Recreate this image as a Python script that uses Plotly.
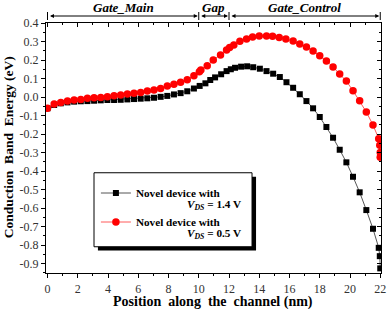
import plotly.graph_objects as go

# ---------------- data ----------------
x_black = [0.0, 0.44, 0.88, 1.32, 1.76, 2.2, 2.64, 3.08, 3.52, 3.96, 4.4, 4.84, 5.28, 5.72,
           6.16, 6.6, 7.04, 7.48, 7.92, 8.36, 8.8, 9.24, 9.68, 10.06, 10.44, 10.76, 11.08,
           11.48, 11.84, 12.12, 12.4, 12.8, 13.2, 13.6, 14.04, 14.48, 14.92, 15.36, 15.8,
           16.24, 16.68, 17.12, 17.56, 18.0, 18.44, 18.88, 19.32, 19.76, 20.2, 20.64, 21.08,
           21.52, 21.9, 21.97, 22.0]
y_black = [-0.061, -0.043, -0.034, -0.029, -0.025, -0.023, -0.022, -0.020, -0.018, -0.016,
           -0.016, -0.015, -0.013, -0.011, -0.009, -0.007, -0.004, 0.001, 0.006, 0.014,
           0.021, 0.031, 0.046, 0.060, 0.074, 0.092, 0.106, 0.123, 0.140, 0.150, 0.158,
           0.164, 0.166, 0.161, 0.153, 0.140, 0.126, 0.108, 0.080, 0.050, 0.015, -0.022,
           -0.061, -0.108, -0.162, -0.220, -0.285, -0.353, -0.431, -0.515, -0.611, -0.712,
           -0.815, -0.860, -0.926]

x_red = [0.0, 0.44, 0.88, 1.32, 1.76, 2.2, 2.64, 3.08, 3.52, 3.96, 4.4, 4.84, 5.28, 5.72,
         6.16, 6.6, 7.04, 7.48, 7.92, 8.36, 8.8, 9.24, 9.68, 10.04, 10.14, 10.56, 10.96,
         11.44, 11.84, 12.04, 12.32, 12.72, 13.16, 13.56, 14.0, 14.48, 14.88, 15.32, 15.76,
         16.24, 16.68, 17.12, 17.56, 18.0, 18.44, 18.88, 19.32, 19.76, 20.2, 20.64, 21.08,
         21.52, 21.9, 21.97, 22.0, 22.0]
y_red = [-0.061, -0.038, -0.029, -0.022, -0.016, -0.013, -0.007, -0.004, -0.002, 0.002,
         0.007, 0.011, 0.016, 0.020, 0.025, 0.032, 0.038, 0.046, 0.060, 0.069, 0.080,
         0.093, 0.115, 0.136, 0.146, 0.169, 0.200, 0.227, 0.254, 0.267, 0.281, 0.302,
         0.314, 0.324, 0.330, 0.330, 0.328, 0.321, 0.313, 0.303, 0.286, 0.270, 0.249,
         0.223, 0.195, 0.162, 0.124, 0.086, 0.034, -0.020, -0.081, -0.151, -0.225, -0.260,
         -0.300, -0.325]

x_tick_vals = [0, 2, 4, 6, 8, 10, 12, 14, 16, 18, 20, 22]
y_tick_vals = [0.4, 0.3, 0.2, 0.1, 0.0, -0.1, -0.2, -0.3, -0.4, -0.5, -0.6, -0.7, -0.8, -0.9]
y_tick_text = ["0.4", "0.3", "0.2", "0.1", "0.0", "-0.1", "-0.2", "-0.3", "-0.4", "-0.5",
               "-0.6", "-0.7", "-0.8", "-0.9"]

region_names = ["Gate_Main", "Gap", "Gate_Control"]
region_start = [0, 10, 12]
region_end = [10, 12, 22]

series_names = ["Novel device with", "Novel device with"]
series_vds = ["1.4 V", "0.5 V"]

NB = "\u00a0"
SERIF = "Liberation Serif"
X_RANGE = [-0.1, 22.05]
Y_RANGE = [-0.951, 0.4]

fig = go.Figure()
fig.add_trace(go.Scatter(
    x=x_black, y=y_black, mode="lines+markers", name=series_names[0], legendgroup="a",
    line=dict(color="#555555", width=1),
    marker=dict(symbol="square", size=6, color="black"),
))
fig.add_trace(go.Scatter(
    x=x_red, y=y_red, mode="lines+markers", name=series_names[1], legendgroup="b",
    line=dict(color="#ff5a5a", width=1),
    marker=dict(symbol="circle", size=7.5, color="#ff0000"),
))

# invisible trace to anchor the mirrored top/right axes
fig.add_trace(go.Scatter(x=[x_black[0]], y=[y_black[0]], xaxis="x2", yaxis="y2",
                         mode="markers", marker=dict(opacity=0), showlegend=False,
                         hoverinfo="skip"))

shapes = []
annotations = []
ARROW_Y = 1.028
for name, s, e in zip(region_names, region_start, region_end):
    annotations.append(dict(
        x=e, y=ARROW_Y, xref="x", yref="paper",
        ax=s, ay=0, axref="x", ayref="pixel",
        showarrow=True, arrowhead=2, arrowside="end+start", arrowsize=0.8,
        arrowwidth=1, arrowcolor="black", text="", standoff=1, startstandoff=1,
    ))
    annotations.append(dict(
        x=(s + e) / 2, y=1.063, xref="x", yref="paper",
        text="<b><i>" + name + "</i></b>", showarrow=False,
        font=dict(family=SERIF, size=13, color="black"), yanchor="middle",
    ))
for b in sorted(set(region_start + region_end)):
    shapes.append(dict(type="line", xref="x", yref="paper", x0=b, x1=b,
                       y0=1.012, y1=1.044, line=dict(color="black", width=1)))

# axis titles
annotations.append(dict(
    x=0.4985, y=-0.117, xref="paper", yref="paper", showarrow=False,
    text="Position" + NB * 2 + "along" + NB * 2 + "the" + NB * 2 + "channel (nm)",
    font=dict(family=SERIF, size=14, color="black", weight="bold"),
    xanchor="center", yanchor="middle",
))
annotations.append(dict(
    x=-0.113, y=0.504, xref="paper", yref="paper", showarrow=False, textangle=-90,
    text="Conduction" + NB + " Band" + NB + " Energy (eV)",
    font=dict(family=SERIF, size=13.5, color="black", weight="bold"),
    xanchor="center", yanchor="middle",
))

# legend frame with shadow
shapes.append(dict(type="rect", xref="paper", yref="paper",
                   x0=0.155, x1=0.627, y0=0.0896, y1=0.385,
                   fillcolor="black", line=dict(width=0), layer="above"))
shapes.append(dict(type="rect", xref="paper", yref="paper",
                   x0=0.1433, x1=0.615, y0=0.105, y1=0.401,
                   fillcolor="white", line=dict(color="black", width=1), layer="above"))

legend_font = dict(family=SERIF, size=11.2, color="black", weight="bold")
# second line of each legend entry
for vds, yy in zip(series_vds, [0.2715, 0.1555]):
    annotations.append(dict(
        x=0.588, y=yy, xref="paper", yref="paper", showarrow=False,
        text="<i>V<sub>DS</sub></i>" + NB + "= " + vds,
        font=legend_font, xanchor="right", yanchor="middle",
    ))

axis_font = dict(family=SERIF, size=12, color="#333333")

fig.update_layout(
    width=387, height=309,
    margin=dict(l=46, r=6, t=23, b=36),
    paper_bgcolor="white", plot_bgcolor="white",
    showlegend=True,
    legend=dict(
        x=0.149, y=0.378, xanchor="left", yanchor="top",
        bgcolor="rgba(0,0,0,0)", borderwidth=0,
        font=legend_font, valign="middle", tracegroupgap=10, itemwidth=30,
    ),
    xaxis=dict(
        range=X_RANGE, tickvals=x_tick_vals, ticks="outside", ticklen=4,
        tickwidth=1, tickcolor="black", showline=True, linecolor="black", linewidth=1.3,
        showgrid=False, zeroline=False, tickfont=axis_font, automargin=False,
        minor=dict(dtick=1, ticks="outside", ticklen=2, tickcolor="black"),
    ),
    yaxis=dict(
        range=Y_RANGE, tickvals=y_tick_vals, ticktext=y_tick_text, ticks="outside",
        ticklen=4, tickwidth=1, tickcolor="black", showline=True, linecolor="black",
        linewidth=1.3, showgrid=False, zeroline=False, tickfont=axis_font, automargin=False,
        minor=dict(dtick=0.05, tick0=0, ticks="outside", ticklen=2, tickcolor="black"),
    ),
    xaxis2=dict(
        range=X_RANGE, overlaying="x", side="top", tickvals=x_tick_vals,
        ticks="inside", ticklen=4, tickcolor="black", showticklabels=False, automargin=False,
        showline=True, linecolor="black", linewidth=1.3, showgrid=False, zeroline=False,
        minor=dict(dtick=1, ticks="inside", ticklen=2, tickcolor="black"),
    ),
    yaxis2=dict(
        range=Y_RANGE, overlaying="y", side="right", tickvals=y_tick_vals, automargin=False,
        ticks="inside", ticklen=4, tickcolor="black", showticklabels=False,
        showline=True, linecolor="black", linewidth=1.3, showgrid=False, zeroline=False,
        minor=dict(dtick=0.05, tick0=0, ticks="inside", ticklen=2, tickcolor="black"),
    ),
    shapes=shapes,
    annotations=annotations,
)

fig.write_html("out.html", config={"displayModeBar": False},
               post_script="document.body.style.margin='0';")
